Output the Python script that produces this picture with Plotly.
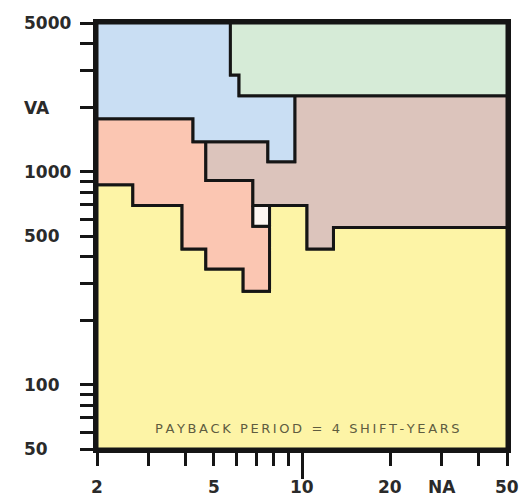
import math
import plotly.graph_objects as go

# ---- data (region boundaries; NA on x, VA on y) ----
blue_x = [2, 5.7, 5.7, 6.1, 6.1, 9.45, 9.45, 7.65, 7.65, 4.25, 4.25, 2]
blue_y = [5000, 5000, 2850, 2850, 2275, 2275, 1115, 1115, 1385, 1385, 1775, 1775]

green_x = [5.7, 50, 50, 6.1, 6.1, 5.7]
green_y = [5000, 5000, 2275, 2275, 2850, 2850]

brown_x = [9.45, 50, 50, 12.8, 12.8, 10.4, 10.4, 6.8, 6.8, 4.7, 4.7, 7.65, 7.65, 9.45]
brown_y = [2275, 2275, 548, 548, 435, 435, 695, 695, 910, 910, 1385, 1385, 1115, 1115]

pink_x = [2, 4.25, 4.25, 4.7, 4.7, 6.8, 6.8, 7.75, 7.75, 6.3, 6.3, 4.7, 4.7, 3.9, 3.9, 2.65, 2.65, 2]
pink_y = [1775, 1775, 1385, 1385, 910, 910, 555, 555, 275, 275, 350, 350, 435, 435, 695, 695, 870, 870]

gap_x = [6.8, 7.75, 7.75, 6.8]
gap_y = [695, 695, 555, 555]

yellow_x = [2, 50, 50, 12.8, 12.8, 10.4, 10.4, 7.75, 7.75, 6.3, 6.3, 4.7, 4.7, 3.9, 3.9, 2.65, 2.65, 2]
yellow_y = [50, 50, 548, 548, 435, 435, 695, 695, 275, 275, 350, 350, 435, 435, 695, 695, 870, 870]

x_ticks = [2, 3, 4, 5, 6, 7, 8, 9, 10, 20, 30, 40, 50]
y_ticks = [5000, 4000, 3000, 2000, 1000, 900, 800, 700, 600, 500, 400, 300, 200,
           100, 90, 80, 70, 60, 50]
x_label_vals = [2, 5, 10, 20, 30, 50]
x_label_text = ["2", "5", "10", "20", "NA", "50"]
y_label_vals = [5000, 2000, 1000, 500, 100, 50]
y_label_text = ["5000", "VA", "1000", "500", "100", "50"]
note_text = "PAYBACK PERIOD = 4 SHIFT-YEARS"

regions = [
    (yellow_x, yellow_y, "#fdf4a6"),
    (pink_x, pink_y, "#fbc6b2"),
    (gap_x, gap_y, "#fdf6f2"),
    (brown_x, brown_y, "#dcc4bc"),
    (blue_x, blue_y, "#c9def3"),
    (green_x, green_y, "#d6ebd7"),
]

fig = go.Figure()
for xs, ys, col in regions:
    fig.add_trace(go.Scatter(
        x=xs + [xs[0]], y=ys + [ys[0]], mode="lines", fill="toself",
        fillcolor=col, line=dict(color="#151515", width=3),
        hoverinfo="skip", showlegend=False))

lab_font = dict(family="DejaVu Sans", size=17, color="#2a2a2a", weight="bold")

annotations = []
for v, t in zip(y_label_vals, y_label_text):
    annotations.append(dict(xref="paper", yref="y", x=-0.183, y=math.log10(v),
                            text=t, showarrow=False, xanchor="left",
                            yanchor="middle", font=lab_font))
for v, t in zip(x_label_vals, x_label_text):
    annotations.append(dict(xref="x", yref="paper", x=math.log10(v), y=-0.089,
                            text=t, showarrow=False, xanchor="center",
                            yanchor="middle", font=lab_font))
# letter-spaced caption (thin spaces between letters)
spaced_note = "\u2009".join(note_text)
annotations.append(dict(xref="paper", yref="paper", x=0.5146, y=0.048,
                        text=spaced_note, showarrow=False, xanchor="center",
                        yanchor="middle",
                        font=dict(family="DejaVu Sans", size=13, color="#5e5c40")))

minor_x = [v for v in x_ticks if v != 10]

fig.update_layout(
    width=519, height=490,
    margin=dict(l=89, r=20, t=15, b=49),
    paper_bgcolor="white", plot_bgcolor="white",
    annotations=annotations,
    xaxis=dict(type="log", range=[math.log10(2), math.log10(50)],
               showgrid=False, zeroline=False, showline=True, mirror=True,
               linecolor="#151515", linewidth=4,
               tickmode="array", tickvals=[10], ticks="outside", ticklen=26,
               tickwidth=3, tickcolor="#151515", showticklabels=False,
               minor=dict(tickmode="array", tickvals=minor_x, ticks="outside",
                          ticklen=13, tickwidth=3, tickcolor="#151515",
                          showgrid=False)),
    yaxis=dict(type="log", range=[math.log10(50), math.log10(5000)],
               showgrid=False, zeroline=False, showline=True, mirror=True,
               linecolor="#151515", linewidth=4,
               tickmode="array", tickvals=y_ticks, ticks="outside", ticklen=13,
               tickwidth=3, tickcolor="#151515", showticklabels=False),
)

fig.write_html("out.html")
